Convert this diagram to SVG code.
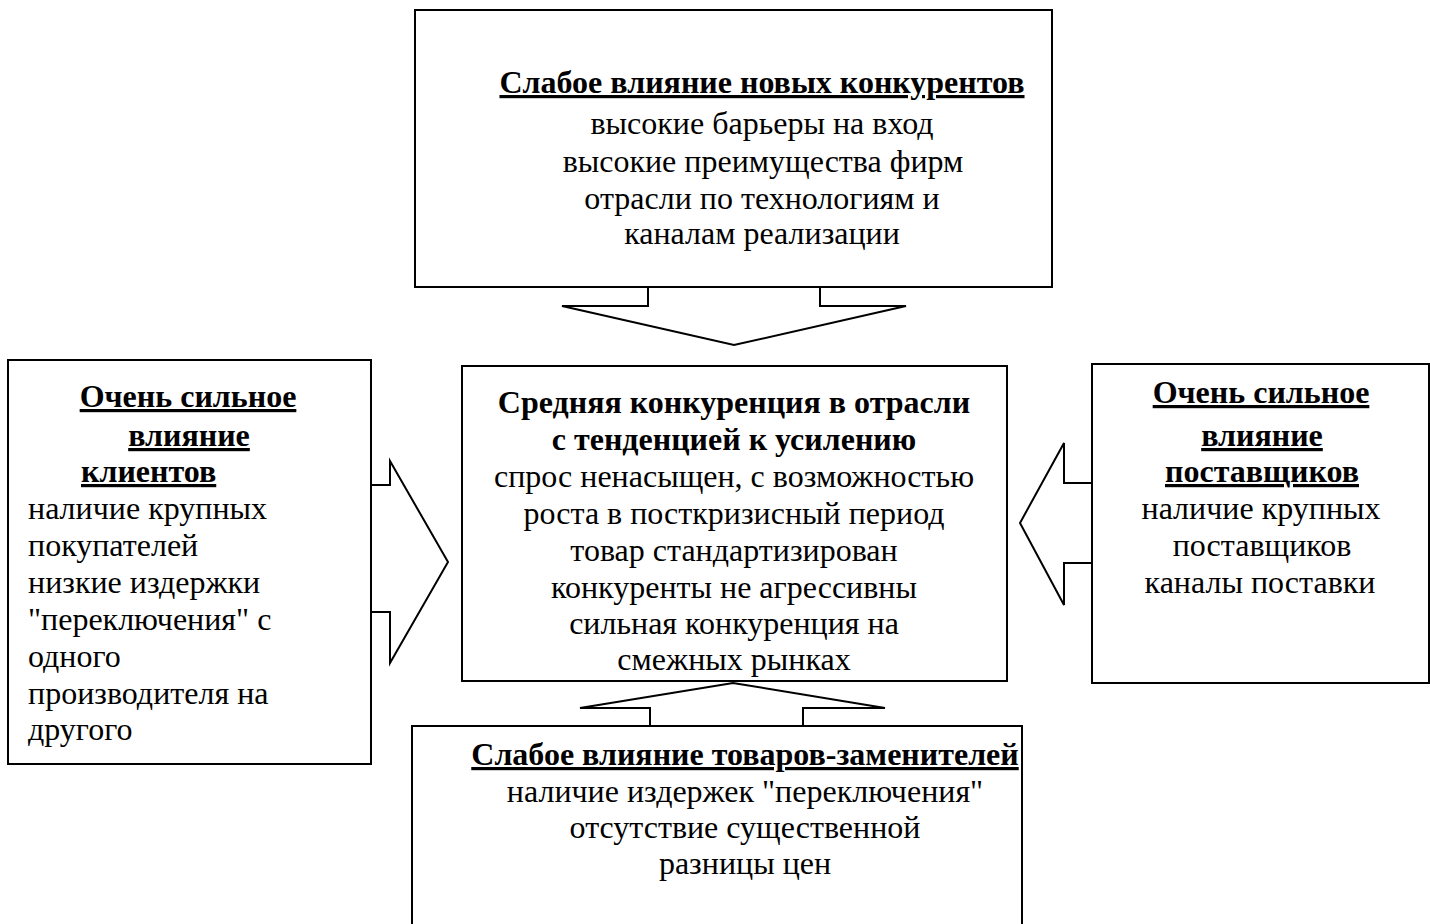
<svg xmlns="http://www.w3.org/2000/svg" width="1430" height="924" viewBox="0 0 1430 924">
<style>
.box{fill:#fff;stroke:#000;stroke-width:2}
.arr{fill:#fff;stroke:#000;stroke-width:2;stroke-linejoin:miter}
text{font-family:"Liberation Serif","Times New Roman",serif;font-size:32px;fill:#000}
.h{font-weight:bold;text-decoration:underline}
.b{font-weight:bold}
.c{text-anchor:middle}
</style>
<rect width="1430" height="924" fill="#fff"/>
<g id="connectors">
<polygon class="arr" points="648,287 648,306 562,306 734,345 906,306 820,306 820,287"/>
<polygon class="arr" points="371,485 390,485 390,461 448,562 390,663 390,612 371,612"/>
<polygon class="arr" points="1092,483 1064,483 1064,443 1020,523 1064,605 1064,563 1092,563"/>
<polygon class="arr" points="650,726 650,708 580,708 733,683 885,708 803,708 803,726"/>
</g>
<g id="top">
<rect class="box" x="415" y="10" width="637" height="277"/>
<text class="h c" x="762" y="93">Слабое влияние новых конкурентов</text>
<text class="c" x="762" y="134">высокие барьеры на вход</text>
<text class="c" x="763" y="172">высокие преимущества фирм</text>
<text class="c" x="762" y="209">отрасли по технологиям и</text>
<text class="c" x="762" y="244">каналам реализации</text>
</g>
<g id="center">
<rect class="box" x="462" y="366" width="545" height="315"/>
<text class="b c" x="734" y="413">Средняя конкуренция в отрасли</text>
<text class="b c" x="734" y="450">с тенденцией к усилению</text>
<text class="c" x="734" y="487">спрос ненасыщен, с возможностью</text>
<text class="c" x="734" y="524">роста в посткризисный период</text>
<text class="c" x="734" y="561">товар стандартизирован</text>
<text class="c" x="734" y="598">конкуренты не агрессивны</text>
<text class="c" x="734" y="634">сильная конкуренция на</text>
<text class="c" x="734" y="670">смежных рынках</text>
</g>
<g id="left">
<rect class="box" x="8" y="360" width="363" height="404"/>
<text class="h c" x="188" y="407">Очень сильное</text>
<text class="h c" x="189" y="446">влияние</text>
<text class="h" x="81" y="482">клиентов</text>
<text x="28" y="519">наличие крупных</text>
<text x="28" y="556">покупателей</text>
<text x="28" y="593">низкие издержки</text>
<text x="28" y="630">"переключения" с</text>
<text x="28" y="667">одного</text>
<text x="28" y="704">производителя на</text>
<text x="28" y="740">другого</text>
</g>
<g id="right">
<rect class="box" x="1092" y="364" width="337" height="319"/>
<text class="h c" x="1261" y="403">Очень сильное</text>
<text class="h c" x="1262" y="446">влияние</text>
<text class="h c" x="1262" y="482">поставщиков</text>
<text class="c" x="1261" y="519">наличие крупных</text>
<text class="c" x="1262" y="556">поставщиков</text>
<text class="c" x="1260" y="593">каналы поставки</text>
</g>
<g id="bottom">
<rect class="box" x="412" y="726" width="610" height="210"/>
<text class="h c" x="745" y="765">Слабое влияние товаров-заменителей</text>
<text class="c" x="745" y="802">наличие издержек "переключения"</text>
<text class="c" x="745" y="838">отсутствие существенной</text>
<text class="c" x="745" y="874">разницы цен</text>
</g>
</svg>
